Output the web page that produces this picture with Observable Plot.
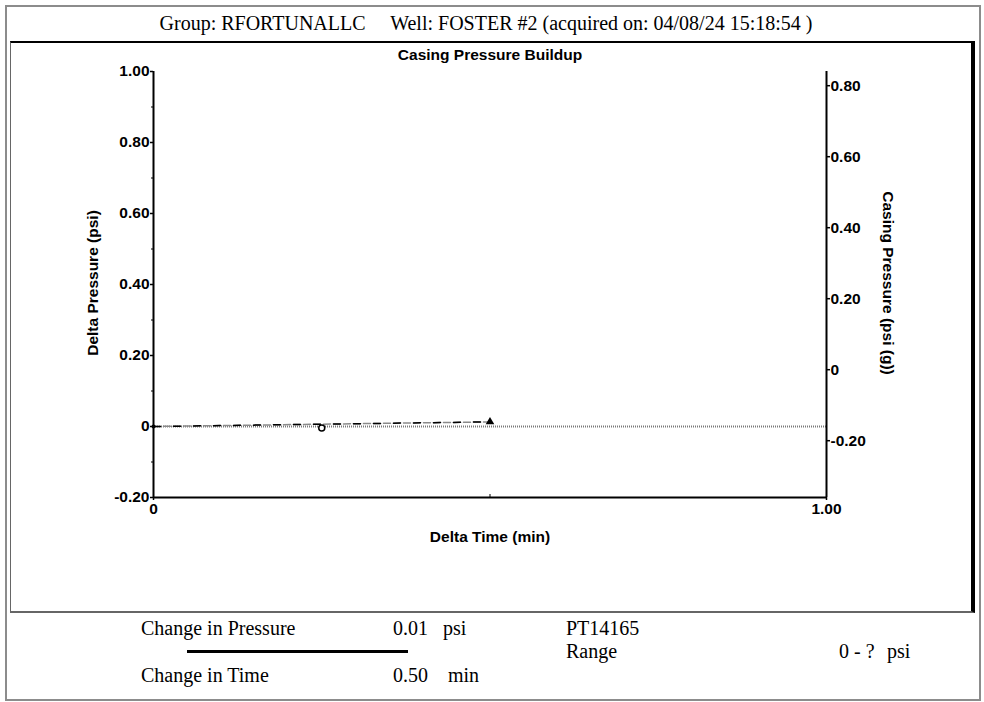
<!DOCTYPE html>
<html><head><meta charset="utf-8">
<script src="https://cdn.jsdelivr.net/npm/d3@7"></script>
<script src="https://cdn.jsdelivr.net/npm/@observablehq/plot@0.6"></script>
<style>
body{margin:0;background:#fff;}
#page{position:relative;width:984px;height:702px;overflow:hidden;}
#page svg{position:absolute;left:0;top:0;}
.t{position:absolute;white-space:pre;line-height:1;color:#000;}
.serif{font-family:"Liberation Serif","Times New Roman",serif;font-size:20px;}
.sans{font-family:"Liberation Sans",Arial,sans-serif;font-size:15.5px;font-weight:bold;}
.box{position:absolute;box-sizing:border-box;}
</style>
</head><body>
<div id="page"></div>
<script>
// ---- data ----
const times = [0, 0.25, 0.5];            // Delta Time (min)
const deltaP = [0, -0.0045, 0.013];      // Delta Pressure (psi)
const xTicks = [0, 1];
const xMinorTicks = [0.5];
const yTicks = [-0.2, 0, 0.2, 0.4, 0.6, 0.8, 1.0];
const yMinorTicks = [-0.1, 0.1, 0.3, 0.5, 0.7, 0.9];
const rightTicks = [-0.2, 0, 0.2, 0.4, 0.6, 0.8];   // Casing Pressure (psi (g))
const rightOffset = 0.16;                            // delta = casing + offset
const headerText = "Group: RFORTUNALLC     Well: FOSTER #2 (acquired on: 04/08/24 15:18:54 )";
const chartTitle = "Casing Pressure Buildup";
const xLabel = "Delta Time (min)";
const yLabel = "Delta Pressure (psi)";
const y2Label = "Casing Pressure (psi (g))";
const summaryLabels = ["Change in Pressure", "Change in Time"];
const summaryValues = ["0.01", "0.50"];
const summaryUnits = ["psi", "min"];
const sensorName = "PT14165";
const rangeLabel = "Range";
const rangeValue = "0 - ?";
const rangeUnit = "psi";

const pts = times.map((t, i) => ({t, p: deltaP[i]}));
const trend = [pts[0], pts[pts.length - 1]];
const fmt = d => Math.abs(d) < 1e-9 ? "0" : d.toFixed(2);

const plot = Plot.plot({
  width: 984, height: 702,
  marginLeft: 153, marginRight: 158, marginTop: 71, marginBottom: 205,
  x: {domain: [0, 1]},
  y: {domain: [-0.2, 1.0]},
  style: {background: "transparent", fontFamily: "'Liberation Sans', Arial, sans-serif", fontSize: "15.5px", fontWeight: "bold", color: "#000", overflow: "visible"},
  marks: [
    Plot.ruleY([0], {stroke: "#7a7a7a", strokeWidth: 2, strokeDasharray: "1,1"}),
    Plot.axisY({ticks: yTicks, tickFormat: fmt, anchor: "left", tickSize: 3, tickPadding: 1, label: null, strokeWidth: 1.5}),
    Plot.axisY({ticks: yMinorTicks, text: null, anchor: "left", tickSize: 2, label: null}),
    Plot.axisY({ticks: rightTicks.map(v => v + rightOffset), tickFormat: d => fmt(Math.round((d - rightOffset) * 100) / 100), anchor: "right", tickSize: 3, tickPadding: 1, label: null, strokeWidth: 1.5}),
    Plot.axisX({ticks: xTicks, tickFormat: fmt, anchor: "bottom", tickSize: 3, tickPadding: 2, label: null, strokeWidth: 1.5}),
    Plot.axisX({ticks: xMinorTicks, text: null, anchor: "bottom", tickSize: -3, label: null}),
    Plot.ruleX(xTicks, {stroke: "#000", strokeWidth: 2}),
    Plot.ruleY([yTicks[0]], {stroke: "#000", strokeWidth: 2}),
    Plot.line(trend, {x: "t", y: "p", stroke: "#8a8a8a", strokeWidth: 1.5, strokeDasharray: "7,3"}),
    Plot.line(trend, {x: "t", y: "p", stroke: "#000", strokeWidth: 1.5, strokeDasharray: "7,13"}),
    Plot.dot(pts.slice(0, 1), {x: "t", y: "p", r: 2, fill: "#000"}),
    Plot.dot(pts.slice(1, 2), {x: "t", y: "p", r: 3, fill: "#fff", stroke: "#000", strokeWidth: 1.5}),
    Plot.dot(pts.slice(2), {x: "t", y: "p", symbol: "triangle", r: 3.2, fill: "#000"})
  ]
});

const page = document.getElementById("page");
page.appendChild(plot);

function box(css) {
  const d = document.createElement("div");
  d.className = "box";
  d.style.cssText = css;
  page.appendChild(d);
}
function txt(s, cls, left, top, extra = "") {
  const d = document.createElement("div");
  d.className = "t " + cls;
  d.textContent = s;
  d.style.cssText = `left:${left}px;top:${top}px;` + extra;
  page.appendChild(d);
  return d;
}
// frames
box("left:5px;top:5px;width:976px;height:696px;border:2px solid #8c8c8c;");
box("left:10px;top:41px;width:965px;height:572px;border-top:2px solid #000;border-left:1px solid #666;border-bottom:2px solid #666;border-right:4px solid #000;");
// thick summary line
box("left:187px;top:650px;width:221px;height:3px;background:#000;");

// texts
txt(headerText, "serif", 486, 13, "transform:translateX(-50%);");
txt(chartTitle, "sans", 490, 47, "transform:translateX(-50%);");
txt(xLabel, "sans", 490, 529, "transform:translateX(-50%);");
txt(yLabel, "sans", 93, 283, "transform:translate(-50%,-50%) rotate(-90deg);");
txt(y2Label, "sans", 888, 283, "transform:translate(-50%,-50%) rotate(90deg);");

txt(summaryLabels[0], "serif", 141, 618);
txt(summaryValues[0], "serif", 393, 618);
txt(summaryUnits[0], "serif", 443, 618);
txt(summaryLabels[1], "serif", 141, 665);
txt(summaryValues[1], "serif", 393, 665);
txt(summaryUnits[1], "serif", 448, 665);
txt(sensorName, "serif", 566, 618);
txt(rangeLabel, "serif", 566, 641);
txt(rangeValue, "serif", 839, 641);
txt(rangeUnit, "serif", 887, 641);
</script>
</body></html>
